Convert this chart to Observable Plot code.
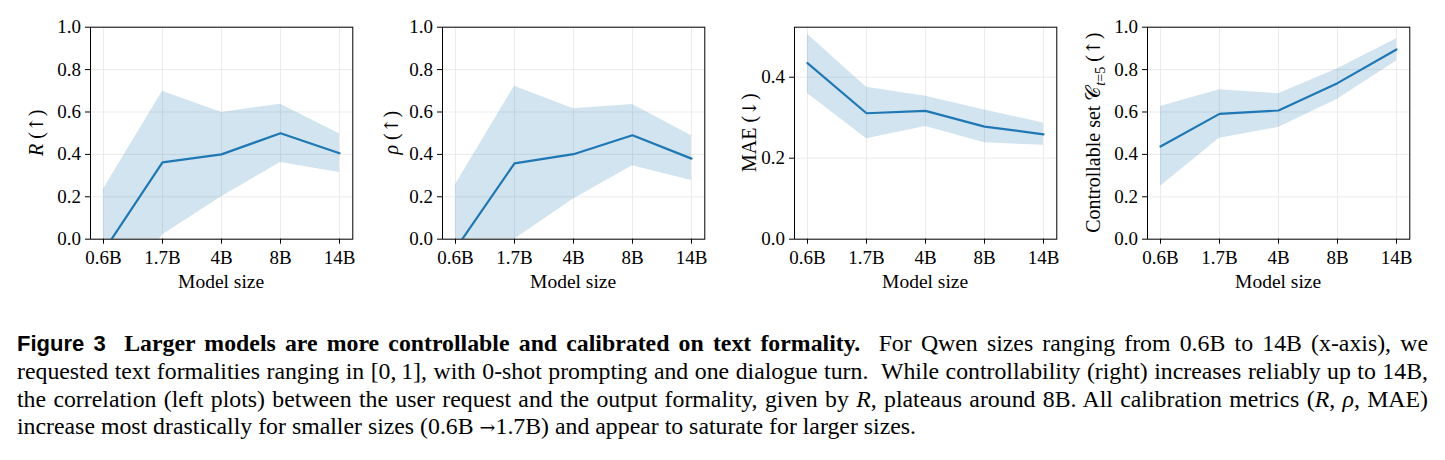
<!DOCTYPE html>
<html>
<head>
<meta charset="utf-8">
<script src="https://cdn.jsdelivr.net/npm/d3@7"></script>
<script src="https://cdn.jsdelivr.net/npm/@observablehq/plot@0.6"></script>
<style>
  body { margin: 0; background: #fff; }
  #fig { position: relative; width: 1445px; height: 460px; overflow: hidden; background: #fff; }
  #fig svg { position: absolute; top: 0; overflow: visible; }
  #caption {
    position: absolute; left: 17px; top: 330px; width: 1411px;
    font-family: "Liberation Serif", "Times New Roman", serif;
    font-size: 23.8px; line-height: 27.8px; color: #000;
  }
  #caption .ln { text-align: justify; text-align-last: justify; }
  #caption .fig { font-family: "Liberation Sans", Arial, sans-serif; font-weight: bold; font-size: 22px; }
  #caption .arr { font-family: "DejaVu Serif", serif; font-size: 19px; }
</style>
</head>
<body>
<div id="fig">
  <div id="caption">
    <div class="ln"><span class="fig">Figure 3</span>&nbsp;&nbsp;<b>Larger models are more controllable and calibrated on text formality.</b>&nbsp; For Qwen sizes ranging from 0.6B to 14B (x-axis), we</div>
    <div class="ln">requested text formalities ranging in [0,&thinsp;1], with 0-shot prompting and one dialogue turn.&nbsp; While controllability (right) increases reliably up to 14B,</div>
    <div class="ln">the correlation (left plots) between the user request and the output formality, given by <i>R</i>, plateaus around 8B. All calibration metrics (<i>R</i>, <i>ρ</i>, MAE)</div>
    <div>increase most drastically for smaller sizes (0.6B <span class="arr">→</span>1.7B) and appear to saturate for larger sizes.</div>
  </div>
</div>
<script>
// Model sizes on the x axis
const sizes = ["0.6B", "1.7B", "4B", "8B", "14B"];

// Pearson correlation R: mean and band
const rMean = [-0.057, 0.362, 0.400, 0.500, 0.405];
const rLo   = [-0.350, 0.020, 0.200, 0.362, 0.315];
const rHi   = [ 0.236, 0.698, 0.598, 0.637, 0.497];

// Spearman correlation rho: mean and band
const rhoMean = [-0.046, 0.358, 0.401, 0.490, 0.380];
const rhoLo   = [-0.350, 0.000, 0.189, 0.346, 0.277];
const rhoHi   = [ 0.257, 0.722, 0.615, 0.635, 0.488];

// Mean absolute error: mean and band
const maeMean = [0.435, 0.311, 0.317, 0.278, 0.259];
const maeLo   = [0.360, 0.248, 0.278, 0.238, 0.232];
const maeHi   = [0.506, 0.375, 0.353, 0.319, 0.287];

// Controllable set C_{t=5}: mean and band
const ctrlMean = [0.437, 0.591, 0.607, 0.736, 0.895];
const ctrlLo   = [0.250, 0.476, 0.527, 0.660, 0.840];
const ctrlHi   = [0.626, 0.705, 0.686, 0.804, 0.945];

// Y tick values
const unitTicks = [0, 0.2, 0.4, 0.6, 0.8, 1.0];
const maeTicks = [0, 0.2, 0.4];

// Axis titles (segments: [text, style])
const xTitle = "Model size";
const yTitles = [
  [["R", "i"], [" ("], ["↑", "arrow"], [")"]],
  [["ρ", "i"], [" ("], ["↑", "arrow"], [")"]],
  [["MAE ("], ["↓", "arrow"], [")"]],
  [["Controllable set "], ["𝒞"], ["t", "isub"], ["=5", "sub"], [" ("], ["↑", "arrow"], [")"]]
];

const series = [
  { mean: rMean, lo: rLo, hi: rHi, yMax: 1, ticks: unitTicks },
  { mean: rhoMean, lo: rhoLo, hi: rhoHi, yMax: 1, ticks: unitTicks },
  { mean: maeMean, lo: maeLo, hi: maeHi, yMax: 0.5235, ticks: maeTicks },
  { mean: ctrlMean, lo: ctrlLo, hi: ctrlHi, yMax: 1, ticks: unitTicks }
];

// Layout of the four panels
const frameLeft = [90, 442.3, 794, 1146.7];
const titleGap = [47.3, 44.3, 38.5, 46.7];
const ML = 60, MR = 10, MT = 26.7, FW = 262.3, FH = 212, MB = 62;
const blue = "#1f77b4";

const fig = document.getElementById("fig");

series.forEach((s, k) => {
  const rows = sizes.map((size, i) => ({ size, mean: s.mean[i], lo: s.lo[i], hi: s.hi[i] }));
  const chart = Plot.plot({
    width: ML + FW + MR,
    height: MT + FH + MB,
    marginLeft: ML, marginRight: MR, marginTop: MT, marginBottom: MB,
    style: { fontFamily: "'Liberation Serif', 'Times New Roman', serif", fontSize: "19px", color: "#000", background: "transparent" },
    x: { type: "point", domain: sizes, padding: 0.2, label: null },
    y: { domain: [0, s.yMax], label: null },
    marks: [
      Plot.gridX(sizes, { stroke: "#ebebeb", strokeOpacity: 1, strokeWidth: 1 }),
      Plot.gridY(s.ticks, { stroke: "#ebebeb", strokeOpacity: 1, strokeWidth: 1 }),
      Plot.areaY(rows, { x: "size", y1: "lo", y2: "hi", fill: blue, fillOpacity: 0.2, clip: true }),
      Plot.lineY(rows, { x: "size", y: "mean", stroke: blue, strokeWidth: 2.2, clip: true }),
      Plot.frame({ stroke: "#000", strokeWidth: 1 }),
      Plot.axisX(sizes, { tickSize: 5, tickPadding: 6, label: null }),
      Plot.axisY(s.ticks, { tickSize: 5, tickPadding: 4.5, tickFormat: ".1f", label: null })
    ]
  });
  chart.style.left = (frameLeft[k] - ML) + "px";
  fig.appendChild(chart);

  const svg = d3.select(chart);
  // x title
  svg.append("text")
    .attr("x", ML + FW / 2).attr("y", MT + FH + 49)
    .attr("text-anchor", "middle")
    .style("font-size", "19.5px")
    .text(xTitle);

  // y title, rotated, with italic, arrow and subscript parts
  const t = svg.append("text")
    .attr("transform", `translate(${ML - titleGap[k]},${MT + FH / 2}) rotate(-90)`)
    .attr("text-anchor", "middle")
    .style("font-size", "20px");
  let shifted = false;
  yTitles[k].forEach(([txt, st]) => {
    const sp = t.append("tspan").text(txt);
    const sub = st === "sub" || st === "isub";
    if (st === "i" || st === "isub") sp.style("font-style", "italic");
    if (st === "arrow") sp.style("font-family", "'DejaVu Serif', serif").style("font-size", "19px");
    if (sub) {
      sp.style("font-size", "14px");
      if (!shifted) { sp.attr("dy", "4.5px"); shifted = true; }
    } else if (shifted) {
      sp.attr("dy", "-4.5px"); shifted = false;
    }
  });
});
</script>
</body>
</html>
